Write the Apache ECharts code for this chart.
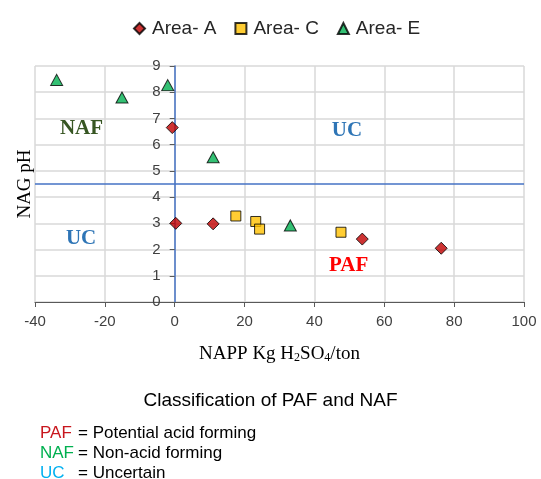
<!DOCTYPE html>
<html>
<head>
<meta charset="utf-8">
<script src="https://cdn.jsdelivr.net/npm/echarts@6/dist/echarts.min.js"></script>
<style>
  html, body { margin: 0; padding: 0; background: #fff; }
  #chart { width: 541px; height: 479px; }
</style>
</head>
<body>
<div id="chart"></div>
<script>
// NAPP (kg H2SO4/ton) vs NAG pH for the three sampling areas
const areaA = [[-0.7, 6.65], [0.3, 3.0], [11.0, 2.98], [53.7, 2.4], [76.3, 2.05]];
const areaC = [[17.5, 3.28], [23.2, 3.07], [24.3, 2.78], [47.6, 2.66]];
const areaE = [[-33.8, 8.47], [-15.1, 7.8], [-2.0, 8.27], [11.0, 5.52], [33.1, 2.92]];

const seriesNames = ['Area- A', 'Area- C', 'Area- E'];
const xTicks = { min: -40, max: 100, step: 20 };
const yTicks = { min: 0, max: 9, step: 1 };
const nagThreshold = 4.5;
const nappThreshold = 0;

// Region annotations placed in data coordinates
const regionLabels = [
  { text: 'NAF', coord: [-26.7, 6.63], color: '#375623' },
  { text: 'UC',  coord: [-26.8, 2.41], color: '#2E75B6' },
  { text: 'UC',  coord: [49.3, 6.55],  color: '#2E75B6' },
  { text: 'PAF', coord: [49.8, 1.4],   color: '#FF0000' }
];

// Key lines underneath the title
const keyAbbr = ['PAF', 'NAF', 'UC'];
const keyText = ['= Potential acid forming', '= Non-acid forming', '= Uncertain'];
const keyColors = ['#C8161D', '#00B050', '#00B0F0'];

const GRID_LEFT = 35;
const chart = echarts.init(document.getElementById('chart'), null, { renderer: 'canvas' });

const markerBorder = { borderColor: '#000', borderWidth: 1 };
const sans = '"Liberation Sans", Arial, sans-serif';
const serif = '"Liberation Serif", "Times New Roman", serif';

const keyGraphics = [];
keyAbbr.forEach((abbr, i) => {
  keyGraphics.push({
    type: 'text', left: 40, top: 425 + i * 20,
    style: { text: abbr, fill: keyColors[i], font: '17px ' + sans }
  });
  keyGraphics.push({
    type: 'text', left: 78, top: 425 + i * 20,
    style: { text: keyText[i], fill: '#000', font: '17px ' + sans }
  });
});

const option = {
  animation: false,
  backgroundColor: '#fff',
  title: {
    text: 'Classification of PAF and NAF',
    left: 'center',
    top: 386,
    textStyle: { fontFamily: sans, fontSize: 19, fontWeight: 'normal', color: '#000' }
  },
  legend: {
    data: seriesNames,
    top: 14,
    left: 128,
    itemWidth: 11,
    itemHeight: 11,
    itemGap: 18,
    textStyle: { fontFamily: sans, fontSize: 19, color: '#262626', padding: [0, 0, 0, 2] }
  },
  grid: { left: GRID_LEFT, right: 17, top: 66, bottom: 177, containLabel: false },
  xAxis: {
    type: 'value',
    min: xTicks.min, max: xTicks.max, interval: xTicks.step,
    axisLine: { onZero: false, lineStyle: { color: '#595959', width: 1.2 } },
    axisTick: { show: true, length: 5, lineStyle: { color: '#595959' } },
    axisLabel: { fontFamily: sans, fontSize: 15, color: '#404040', margin: 12 },
    splitLine: { show: true, lineStyle: { color: '#D9D9D9', width: 1.5 } },
    name: '{n|NAPP Kg H}{s|2}{n|SO}{s|4}{n|/ton}',
    nameLocation: 'middle',
    nameGap: 42,
    nameTextStyle: {
      rich: {
        n: { fontFamily: serif, fontSize: 19, color: '#000' },
        s: { fontFamily: serif, fontSize: 12, color: '#000', padding: [8, 0, 0, 0] }
      }
    }
  },
  yAxis: {
    type: 'value',
    min: yTicks.min, max: yTicks.max, interval: yTicks.step,
    axisLine: { onZero: false, lineStyle: { color: '#4472C4', width: 1.5 } },
    axisTick: { show: true, length: 5, lineStyle: { color: '#595959' } },
    axisLabel: { fontFamily: sans, fontSize: 15, color: '#404040', margin: 14 },
    splitLine: { show: true, lineStyle: { color: '#D9D9D9', width: 1.5 } }
  },
  graphic: [
    {
      type: 'text', x: 25, y: 184, rotation: Math.PI / 2,
      style: { text: 'NAG pH', fill: '#000', font: '19px ' + serif, align: 'center', verticalAlign: 'middle' }
    }
  ].concat(keyGraphics),
  series: [
    {
      name: seriesNames[0], type: 'scatter', data: areaA,
      symbol: 'diamond', symbolSize: 12,
      itemStyle: Object.assign({ color: '#C00000' }, markerBorder),
      z: 5,
      markLine: {
        silent: true, symbol: 'none',
        label: { show: false },
        lineStyle: { color: '#4472C4', width: 1.5, type: 'solid' },
        data: [{ yAxis: nagThreshold }]
      },
      markPoint: {
        silent: true,
        symbol: 'circle', symbolSize: 0,
        data: regionLabels.map(r => ({
          coord: r.coord,
          label: {
            show: true, position: 'inside', formatter: r.text, color: r.color,
            fontFamily: serif, fontSize: 21, fontWeight: 'bold'
          }
        }))
      }
    },
    {
      name: seriesNames[1], type: 'scatter', data: areaC,
      symbol: 'rect', symbolSize: 10,
      itemStyle: Object.assign({ color: '#FFC000' }, markerBorder),
      z: 5
    },
    {
      name: seriesNames[2], type: 'scatter', data: areaE,
      symbol: 'triangle', symbolSize: [12, 11],
      itemStyle: Object.assign({ color: '#00B050' }, markerBorder),
      z: 5
    }
  ]
};

chart.setOption(option);

// Move the vertical axis (line, ticks and labels) to cross at NAPP = 0
const zeroX = chart.convertToPixel({ xAxisIndex: 0 }, nappThreshold);
chart.setOption({ yAxis: { offset: -(zeroX - GRID_LEFT) } });
</script>
</body>
</html>
